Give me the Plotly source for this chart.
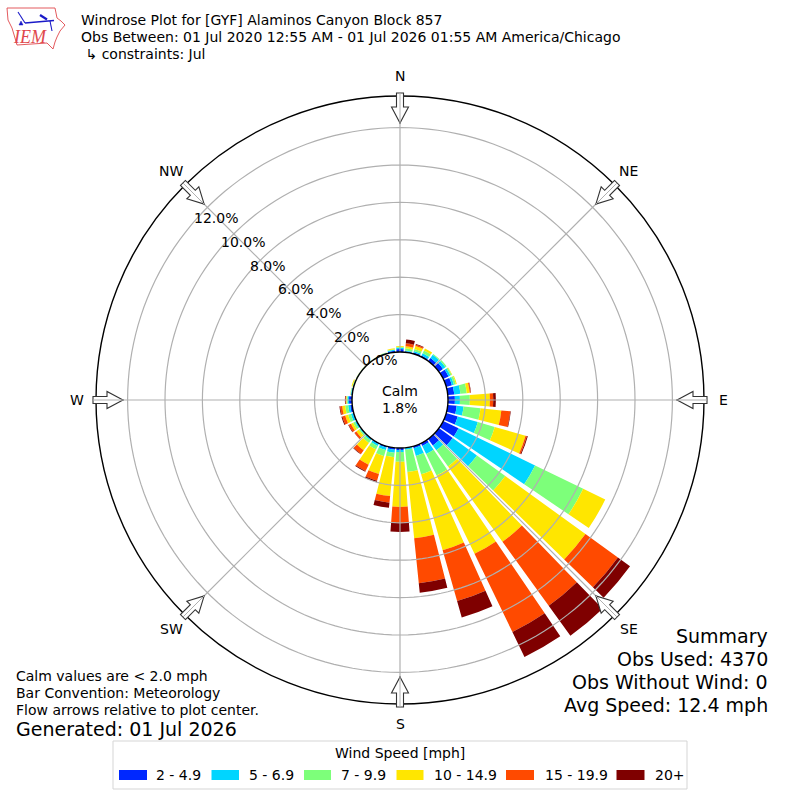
import numpy as np
import plotly.graph_objects as go

# percent of observations per direction bin and speed class
directions = [10, 20, 30, 40, 50, 60, 70, 80, 90, 100, 110, 120,
              130, 140, 150, 160, 170, 180, 190, 200, 210, 220, 230, 240,
              250, 260, 270, 280, 290, 300, 310, 320, 330, 340, 350, 360]
speed_2_5 = [.05, .08, .08, .21, .27, .32, .32, .35, .37, .48, .64, .91,
             .91, .43, .16, .11, .03, .11, .11, .08, .05, .03, .03, .03,
             .05, .11, .16, .05, .03, .03, .02, .02, .02, .03, .08, .16]
speed_5_7 = [.05, .08, .13, .21, .16, .11, .11, .33, .27, .37, 1.12, 4.55,
             1.60, .32, .48, .43, .08, .11, .16, .13, .11, .08, .05, .08,
             .11, .11, .08, .03, .02, .01, .01, .01, .01, .02, .05, .07]
speed_7_10 = [.11, .11, .16, .05, .08, .08, .11, .34, .53, .91, .94, 2.86,
              1.87, 1.07, 1.28, 1.02, 1.20, .52, .24, .35, .21, .16, .08, .11,
              .16, .16, .05, .02, .03, .01, .01, .01, .01, .02, .03, .04]
speed_10_15 = [.11, .16, .13, 0, 0, .03, .05, .16, 1.07, 1.12, 1.71, 1.31,
               5.29, 4.97, 4.65, 4.22, 3.55, 2.41, 2.09, .99, .91, .48, .16, .13,
               .16, .16, .03, .01, .05, .01, .01, .01, .01, .01, .05, .05]
speed_15_20 = [.16, .08, 0, 0, 0, 0, 0, .05, .18, .48, .08, 0,
               2.14, 4.22, 4.65, 2.83, 2.42, .86, .35, .37, .37, .24, .11, .13,
               .16, .11, .03, 0, 0, 0, 0, 0, 0, 0, 0, 0]
speed_20_up = [.21, .03, 0, 0, 0, 0, 0, .02, .14, .03, .05, 0,
               .80, 1.98, 1.48, .91, .51, .48, .28, .08, .05, .03, .01, .03,
               .05, .04, .03, 0, 0, 0, 0, 0, 0, 0, 0, 0]

speed_series = [speed_2_5, speed_5_7, speed_7_10, speed_10_15, speed_15_20, speed_20_up]
speed_labels = ['2 - 4.9', '5 - 6.9', '7 - 9.9', '10 - 14.9', '15 - 19.9', '20+']
speed_colors = ['#0028ff', '#00d5ff', '#7dff7a', '#ffe600', '#ff4a00', '#7f0000']

compass_angles = [0, 45, 90, 135, 180, 225, 270, 315]
compass_labels = ['N', 'NE', 'E', 'SE', 'S', 'SW', 'W', 'NW']
radial_ticks = [0, 2, 4, 6, 8, 10, 12]
radial_labels = ['0.0%', '2.0%', '4.0%', '6.0%', '8.0%', '10.0%', '12.0%']
radial_max = 13.69

FONT = 'DejaVu Sans'
GRID = '#b0b0b0'
CX, CY = 400, 400


def px(x, y):
    return x / 800, 1 - y / 800


def note(text, x, y, size=14, anchor='left', color='#000000', family=FONT):
    xp, yp = px(x, y)
    return dict(text=text, x=xp, y=yp, xref='paper', yref='paper', showarrow=False,
                xanchor=anchor, yanchor='middle', borderpad=0,
                font=dict(family=family, size=size, color=color))


def polygon(points):
    pts = ['%.5f %.5f' % px(x, y) for x, y in points]
    return 'M ' + ' L '.join(pts) + ' Z'


def compass_arrow(angle):
    # hollow arrow sitting on the rim, pointing to the centre
    a = np.radians(angle)
    ux, uy = np.sin(a), -np.cos(a)
    vx, vy = np.cos(a), np.sin(a)
    outline = [(307, -3.5), (293, -3.5), (293, -8.5), (277, 0), (293, 8.5), (293, 3.5), (307, 3.5)]
    pts = [(CX + r * ux + w * vx, CY + r * uy + w * vy) for r, w in outline]
    body = dict(type='path', path=polygon(pts), xref='paper', yref='paper',
                fillcolor='white', line=dict(color='#333333', width=1.1), layer='above')
    x0, y0 = px(CX + 277 * ux, CY + 277 * uy)
    x1, y1 = px(CX + 307 * ux, CY + 307 * uy)
    centre = dict(type='line', x0=x0, y0=y0, x1=x1, y1=y1, xref='paper', yref='paper',
                  line=dict(color=GRID, width=1), layer='above')
    return [body, centre]


def logo_shapes():
    red, blue = '#e0474c', '#1a1ac8'
    iowa = [(7, 8), (55, 8), (57, 18), (61, 21), (65, 25), (60, 31), (57, 37), (55, 42),
            (53, 49), (47, 43), (17, 45), (15, 38), (12, 28), (8, 20)]
    out = [dict(type='path', path=polygon(iowa), xref='paper', yref='paper',
                fillcolor='white', line=dict(color=red, width=0.9), layer='above')]
    lines = [[(25, 23), (54, 20.5), 1.5], [(25, 23), (18, 12), 1.1], [(50, 21), (52, 31), 1.1], [(40, 15), (47, 19.5), 2.2]]
    for ln in lines:
        x0, y0 = px(*ln[0])
        x1, y1 = px(*ln[1])
        out.append(dict(type='line', x0=x0, y0=y0, x1=x1, y1=y1, xref='paper', yref='paper',
                        line=dict(color=blue, width=ln[2]), layer='above'))
    out.append(dict(type='path', path=polygon([(19, 25), (21, 21), (23, 25)]), xref='paper', yref='paper',
                    fillcolor=blue, line=dict(color=blue, width=0.5), layer='above'))
    return out


fig = go.Figure()

for label, values, color in zip(speed_labels, speed_series, speed_colors):
    fig.add_trace(go.Barpolar(theta=directions, r=values, width=8.3, name=label,
                              marker=dict(color=color, line=dict(width=0)),
                              showlegend=False))

# grid has to sit on top of the bars, plotly keeps its own underneath
ring_theta = np.arange(0, 361, 2)
for tick in radial_ticks[1:]:
    fig.add_trace(go.Scatterpolar(theta=ring_theta, r=[tick] * len(ring_theta), mode='lines',
                                  line=dict(color=GRID, width=1.2), hoverinfo='skip',
                                  showlegend=False))
for angle in compass_angles:
    fig.add_trace(go.Scatterpolar(theta=[angle, angle], r=[0, radial_max], mode='lines',
                                  line=dict(color=GRID, width=1.2), hoverinfo='skip',
                                  showlegend=False))

shapes = []
for angle in compass_angles:
    shapes += compass_arrow(angle)
shapes += logo_shapes()

# hand built legend, box and swatches like the original
box_x0, box_y0 = px(113, 741)
box_x1, box_y1 = px(687, 789)
shapes.append(dict(type='rect', x0=box_x0, y0=box_y0, x1=box_x1, y1=box_y1, xref='paper',
                   yref='paper', fillcolor='white', line=dict(color='#d5d5d5', width=1), layer='above'))
swatch_x = [119, 211.5, 304, 396.5, 506, 616.5]
swatch_w = [28, 27.5, 27, 27, 28, 28]
text_x = [155, 247.5, 340, 433, 544, 654]
annotations = []
for x, w, tx, label, color in zip(swatch_x, swatch_w, text_x, speed_labels, speed_colors):
    sx0, sy0 = px(x, 770)
    sx1, sy1 = px(x + w, 780)
    shapes.append(dict(type='rect', x0=sx0, y0=sy0, x1=sx1, y1=sy1, xref='paper', yref='paper',
                       fillcolor=color, line=dict(width=0), layer='above'))
    annotations.append(note(label, tx, 775))
annotations.append(note('Wind Speed [mph]', 400, 753, 14, 'center'))

# axis labels placed by hand, plotly rotates the radial ones along the axis
for angle, label in zip(compass_angles, compass_labels):
    a = np.radians(angle)
    annotations.append(note(label, CX + 323.5 * np.sin(a), CY - 323.5 * np.cos(a), 14, 'center'))
radial_label_x = [380, 352, 324, 296, 268, 243, 216]
radial_label_y = [360, 337, 313, 289, 266, 242, 218]
for x, y, label in zip(radial_label_x, radial_label_y, radial_labels):
    annotations.append(note(label, x, y, 14, 'center'))

annotations += [
    note('Windrose Plot for [GYF] Alaminos Canyon Block 857', 80, 20),
    note('Obs Between: 01 Jul 2020 12:55 AM - 01 Jul 2026 01:55 AM America/Chicago', 80, 37),
    note(' ↳ constraints: Jul', 80, 54),
    note('<i>IEM</i>', 30, 37, 18, 'center', '#e0474c', 'Liberation Serif'),
    note('Calm', 400, 391, 14, 'center'),
    note('1.8%', 400, 408, 14, 'center'),
    note('Calm values are &lt; 2.0 mph', 15, 676),
    note('Bar Convention: Meteorology', 15, 693),
    note('Flow arrows relative to plot center.', 15, 710),
    note('Generated: 01 Jul 2026', 15, 729, 19),
    note('Summary', 769, 636, 19, 'right'),
    note('Obs Used: 4370', 769, 659, 19, 'right'),
    note('Obs Without Wind: 0', 769, 682, 19, 'right'),
    note('Avg Speed: 12.4 mph', 769, 705, 19, 'right'),
]

fig.update_layout(
    width=800,
    height=800,
    margin=dict(l=0, r=0, t=0, b=0),
    paper_bgcolor='white',
    font=dict(family=FONT, color='#000000', size=14),
    showlegend=False,
    shapes=shapes,
    annotations=annotations,
    polar=dict(
        domain=dict(x=[96 / 800, 704 / 800], y=[96 / 800, 704 / 800]),
        hole=48 / 304,
        barmode='stack',
        bgcolor='white',
        angularaxis=dict(direction='clockwise', rotation=90, tickmode='array',
                         tickvals=compass_angles, ticktext=compass_labels,
                         showgrid=False, ticks='', showticklabels=False,
                         linecolor='#000000', linewidth=1.4),
        radialaxis=dict(range=[0, radial_max], angle=135, tickmode='array',
                        tickvals=radial_ticks, ticktext=radial_labels, showgrid=False,
                        showline=False, ticks='', showticklabels=False),
    ),
)

fig.write_html('out.html', config={'displayModeBar': False},
               post_script="document.body.style.margin='0';document.documentElement.style.overflow='hidden';")
